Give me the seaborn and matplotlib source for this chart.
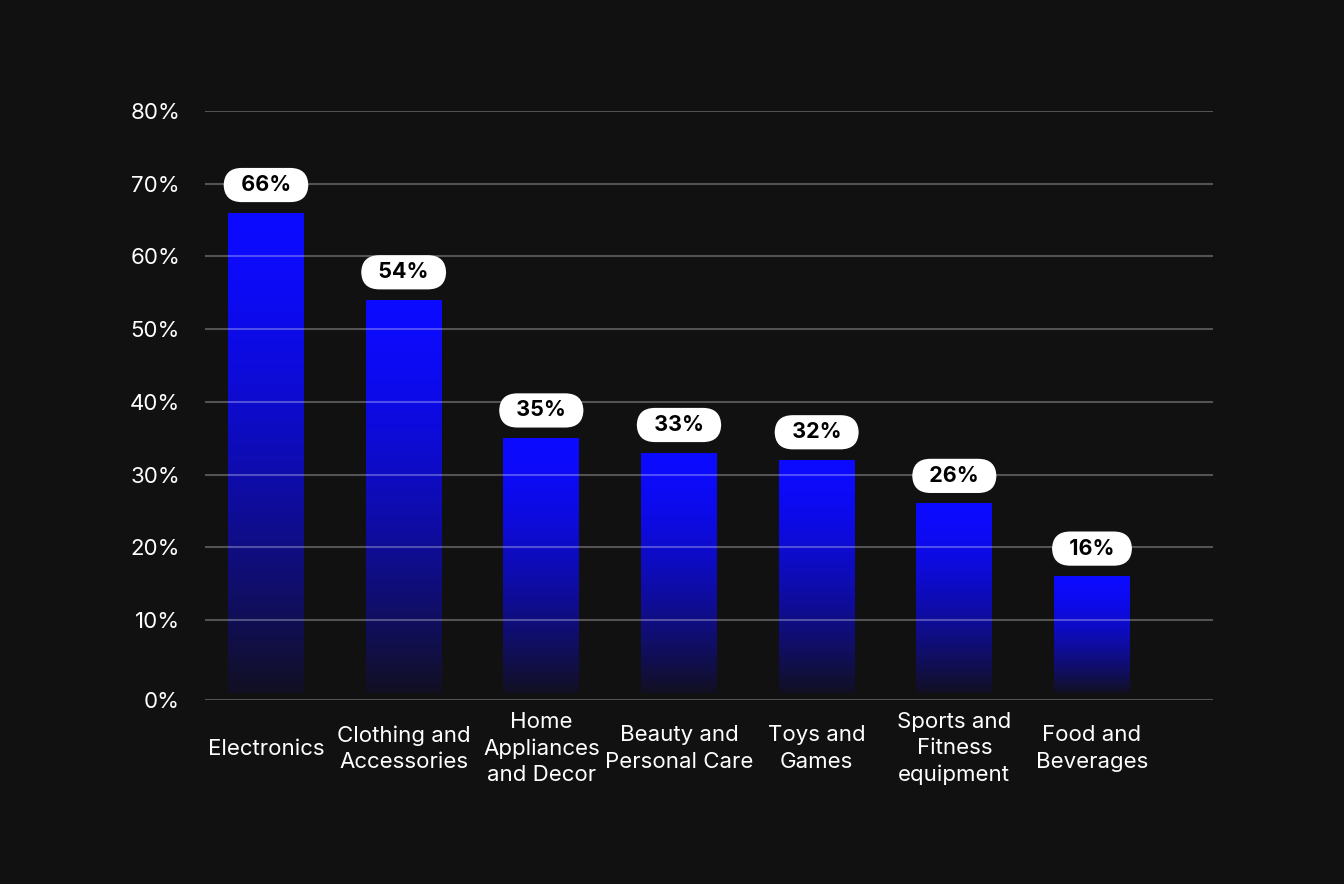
import numpy as np
import pandas as pd
import matplotlib
matplotlib.use("Agg")
import matplotlib.pyplot as plt
import seaborn as sns

# data
categories = [
    "Electronics",
    "Clothing and\nAccessories",
    "Home\nAppliances\nand Decor",
    "Beauty and\nPersonal Care",
    "Toys and\nGames",
    "Sports and\nFitness\nequipment",
    "Food and\nBeverages",
]
shares = [66, 54, 35, 33, 32, 26, 16]
tick_values = [0, 10, 20, 30, 40, 50, 60, 70, 80]
tick_labels = [f"{v}%" for v in tick_values]

BG = "#111111"
TOP_BLUE = np.array([12, 10, 255]) / 255
BOTTOM_DARK = np.array([18, 16, 34]) / 255

sns.set_theme(style="dark")
plt.rcParams["font.family"] = ["Inter", "DejaVu Sans"]

df = pd.DataFrame({"category": categories, "share": shares})

fig = plt.figure(figsize=(13.44, 8.84), dpi=100, facecolor=BG)
ax = fig.add_axes([205 / 1344, 1 - 700 / 884, (1213 - 205) / 1344, (700 - 111) / 884])
ax.set_facecolor(BG)

sns.barplot(data=df, x="category", y="share", ax=ax, width=0.55, color=TOP_BLUE)

# replace flat bars by a vertical gradient (bright blue at top, fading out at the bottom)
t = np.linspace(0, 1, 256) ** 1.6
grad = TOP_BLUE[None, :] * (1 - t[:, None]) + BOTTOM_DARK[None, :] * t[:, None]
grad = grad[:, None, :]
for patch in list(ax.patches):
    x0, w = patch.get_x(), patch.get_width()
    h = patch.get_height()
    ax.imshow(grad, extent=[x0, x0 + w, 0, h], origin="upper", aspect="auto", zorder=1)
    patch.set_visible(False)

ax.set_xlim(-0.443, 6.879)
ax.set_ylim(-1, 80)

# value labels in white pills
for i, v in enumerate(shares):
    ax.annotate(f"  {v}%  ", xy=(i, v), xytext=(0, 20), textcoords="offset points",
                ha="center", va="center", fontsize=15.5, fontweight="bold", color="#000000",
                bbox=dict(boxstyle="round,pad=0.33,rounding_size=0.85", fc="white", ec="none"),
                zorder=4)

# y axis: baseline sits a touch below the true zero, as in the reference
ypos = [-1] + tick_values[1:]
ax.set_yticks(ypos, labels=tick_labels)
ax.yaxis.grid(True, color="white", alpha=0.28, linewidth=1.5)
ax.xaxis.grid(False)
ax.set_axisbelow(False)

ax.set_xlabel("")
ax.set_ylabel("")
ax.tick_params(axis="y", length=0, pad=18, labelsize=16, labelcolor="white")
ax.tick_params(axis="x", length=0, pad=35, labelsize=16, labelcolor="white")
for lab in ax.get_xticklabels():
    lab.set_verticalalignment("center")
    lab.set_linespacing(1.4)
for s in ax.spines.values():
    s.set_visible(False)

fig.savefig("out.png", dpi=100, facecolor=BG)
